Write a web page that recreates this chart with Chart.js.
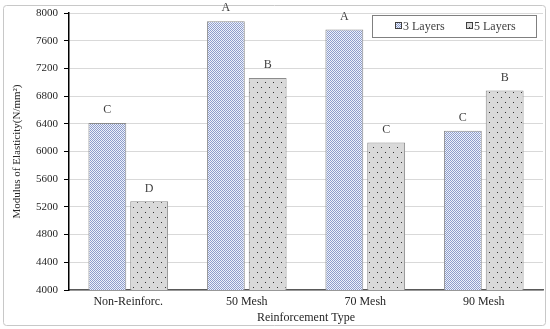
<!DOCTYPE html>
<html>
<head>
<meta charset="utf-8">
<script src="https://cdn.jsdelivr.net/npm/chart.js@4.4.0/dist/chart.umd.min.js"></script>
<style>
    html, body { margin: 0; padding: 0; background: #fff; }
    #wrap { position: relative; width: 550px; height: 329px; }
</style>
</head>
<body>
<div id="wrap"><canvas id="myChart"></canvas></div>
<script>
// data
const categories = ['Non-Reinforc.', '50 Mesh', '70 Mesh', '90 Mesh'];
const seriesNames = ['3 Layers', '5 Layers'];
const layers3 = [6410, 7880, 7760, 6300];
const layers5 = [5280, 7060, 6130, 6880];
const letters3 = ['C', 'A', 'A', 'C'];
const letters5 = ['D', 'B', 'C', 'B'];
const yTicks = [4000, 4400, 4800, 5200, 5600, 6000, 6400, 6800, 7200, 7600, 8000];

const serif = "'Liberation Serif', 'DejaVu Serif', serif";

// pola isi batang
function makePattern(w, h, bg, dot, dots) {
    const c = document.createElement('canvas');
    c.width = w; c.height = h;
    const g = c.getContext('2d');
    g.fillStyle = bg;
    g.fillRect(0, 0, w, h);
    g.fillStyle = dot;
    dots.forEach(function(p) { g.fillRect(p[0], p[1], 1, 1); });
    return g.createPattern(c, 'repeat');
}
const pattern3 = makePattern(2, 2, '#eef2fb', '#8e9dcb', [[0, 0], [1, 1]]);
const pattern5 = makePattern(8, 10, '#d9d9d9', '#303030', [[1, 2], [5, 7]]);

// bingkai luar
const framePlugin = {
    id: 'frame',
    beforeDraw(chart) {
        const ctx = chart.ctx;
        ctx.save();
        ctx.fillStyle = '#fff';
        ctx.fillRect(0, 0, chart.width, chart.height);
        ctx.strokeStyle = '#c8c8c8';
        ctx.lineWidth = 1;
        ctx.beginPath();
        ctx.roundRect(3.5, 5.5, 542, 320, 3);
        ctx.stroke();
        ctx.restore();
    }
};

// huruf di atas batang
const letterPlugin = {
    id: 'letters',
    afterDatasetsDraw(chart) {
        const ctx = chart.ctx;
        const all = [letters3, letters5];
        ctx.save();
        ctx.font = '12px ' + serif;
        ctx.fillStyle = '#404040';
        ctx.textAlign = 'center';
        ctx.textBaseline = 'middle';
        chart.data.datasets.forEach(function(ds, i) {
            chart.getDatasetMeta(i).data.forEach(function(bar, j) {
                ctx.fillText(all[i][j], bar.x, bar.y - 13);
            });
        });
        ctx.restore();
    }
};

// legenda dengan kotak
const legendPlugin = {
    id: 'boxLegend',
    afterDraw(chart) {
        const ctx = chart.ctx;
        const left = 372, top = 15, w = 164, h = 22;
        ctx.save();
        ctx.fillStyle = '#fff';
        ctx.fillRect(left, top, w, h);
        ctx.strokeStyle = '#808080';
        ctx.lineWidth = 1;
        ctx.strokeRect(left + 0.5, top + 0.5, w, h);
        ctx.font = '12px ' + serif;
        ctx.textBaseline = 'middle';
        const xs = [395, 466];
        chart.data.datasets.forEach(function(ds, i) {
            ctx.fillStyle = ds.backgroundColor;
            ctx.fillRect(xs[i], top + 8, 6, 6);
            ctx.strokeStyle = '#404040';
            ctx.strokeRect(xs[i] + 0.5, top + 7.5, 6, 6);
            ctx.fillStyle = '#404040';
            ctx.fillText(ds.label, xs[i] + 8, top + 11.5);
        });
        ctx.restore();
    }
};

const ctx = document.getElementById('myChart').getContext('2d');
const myChart = new Chart(ctx, {
    type: 'bar',
    data: {
        labels: categories,
        datasets: [{
            label: seriesNames[0],
            data: layers3,
            backgroundColor: pattern3,
            borderColor: '#8c8c8c',
            borderWidth: 1
        }, {
            label: seriesNames[1],
            data: layers5,
            backgroundColor: pattern5,
            borderColor: '#8c8c8c',
            borderWidth: 1
        }]
    },
    options: {
        responsive: true,
        maintainAspectRatio: false,
        animation: false,
        devicePixelRatio: 1,
        categoryPercentage: 0.706,
        barPercentage: 0.905,
        layout: { padding: { left: 4, right: 7, top: 13, bottom: 4 } },
        plugins: {
            legend: { display: false },
            tooltip: { enabled: false }
        },
        scales: {
            x: {
                afterFit: function(scale) { scale.height = 35; },
                grid: { display: false, drawTicks: false },
                border: { color: '#595959', width: 1.5 },
                ticks: { color: '#262626', font: { family: serif, size: 12 }, padding: 5 },
                title: {
                    display: true,
                    text: 'Reinforcement Type',
                    color: '#262626',
                    font: { family: serif, size: 12 },
                    padding: { top: 0, bottom: 0 }
                }
            },
            y: {
                min: 4000,
                max: 8000,
                afterBuildTicks: function(scale) {
                    scale.ticks = yTicks.map(function(v) { return { value: v }; });
                },
                afterFit: function(scale) { scale.width = 65; },
                grid: { color: '#d9d9d9', tickColor: '#000', tickLength: 5 },
                border: { color: '#000', width: 1.5 },
                ticks: {
                    color: '#262626',
                    font: { family: serif, size: 11 },
                    padding: 6,
                    callback: function(v) { return String(v); }
                },
                title: {
                    display: true,
                    text: 'Modulus of Elasticity(N/mm²)',
                    color: '#262626',
                    font: { family: serif, size: 11 },
                    padding: { top: 7, bottom: 0 }
                }
            }
        }
    },
    plugins: [framePlugin, letterPlugin, legendPlugin]
});
</script>
</body>
</html>
